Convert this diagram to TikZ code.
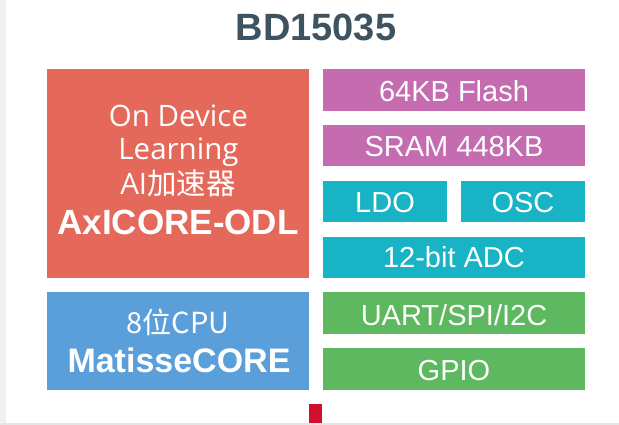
\documentclass[tikz,border=0pt]{standalone}
\usepackage{fontspec}
\setmainfont{Liberation Sans}
\newfontfamily\opensans{Open Sans}
\newfontfamily\cjk{Noto Sans CJK SC}
\definecolor{salmon}{HTML}{E4695B}
\definecolor{mag}{HTML}{C46CAF}
\definecolor{teal}{HTML}{19B3C6}
\definecolor{cpublue}{HTML}{5A9FD9}
\definecolor{grn}{HTML}{5DB85F}
\definecolor{titlec}{HTML}{3E5361}
\definecolor{barred}{HTML}{D20F2C}
\begin{document}
\begin{tikzpicture}[x=1pt,y=-1pt,
  blk/.style={draw=none, inner sep=0pt, outer sep=0pt},
  wide/.style={blk, minimum width=262pt},
  half/.style={blk, minimum width=124pt, minimum height=41pt},
  txt/.style={text=white, anchor=base, inner sep=0pt, font=\fontsize{29}{30}\selectfont},
  ltxt/.style={text=white, anchor=base, inner sep=0pt, font=\opensans\fontsize{29.5}{31}\selectfont},
  btxt/.style={text=white, anchor=base, inner sep=0pt, font=\bfseries\fontsize{35}{38}\selectfont}]
\useasboundingbox (0,0) rectangle (619,425);
\fill[white] (0,0) rectangle (619,425);
\fill[black!6] (0,0) rectangle (6,425);
\fill[black!10] (0,423) rectangle (619,425);

\node[anchor=base, inner sep=0pt, text=titlec, font=\bfseries\fontsize{38}{40}\selectfont] (title) at (316,40.5) {BD15035};

\node[wide, minimum height=209pt, fill=salmon] (odl) at (178,173.5) {};
\node[wide, minimum height=98pt, fill=cpublue] (cpu) at (178,341) {};
\node[wide, minimum height=42pt, fill=mag] (flash) at (454,90) {};
\node[wide, minimum height=41pt, fill=mag] (sram) at (454,145.5) {};
\node[half, fill=teal] (ldo) at (385,202) {};
\node[half, fill=teal] (osc) at (523,202) {};
\node[wide, minimum height=41pt, fill=teal] (adc) at (454,257.5) {};
\node[wide, minimum height=42pt, fill=grn] (uart) at (454,313) {};
\node[wide, minimum height=42pt, fill=grn] (gpio) at (454,369) {};
\node[blk, minimum width=13pt, minimum height=19pt, fill=barred] (bar) at (315.5,413.5) {};

\node[ltxt] (l1) at (178.5,126.5) {On Device};
\node[ltxt] (l2) at (178.5,159.5) {Learning};
\node[ltxt] (l3) at (178,194.5) {AI{\cjk 加速器}};
\node[btxt] (l4) at (178,235) {AxICORE-ODL};

\node[txt, font=\cjk\fontsize{29}{30}\selectfont] (c1) at (178,333) {8位CPU};
\node[btxt, font=\bfseries\fontsize{34}{36}\selectfont] (c2) at (179,372) {MatisseCORE};

\node[txt] (tflash) at (454,101.7) {64KB Flash};
\node[txt] (tsram) at (454,157) {SRAM 448KB};
\node[txt] (tldo) at (385,212.5) {LDO};
\node[txt] (tosc) at (523,212.5) {OSC};
\node[txt] (tadc) at (454,267) {12-bit ADC};
\node[txt] (tuart) at (454,325) {UART/SPI/I2C};
\node[txt] (tgpio) at (454,380) {GPIO};
\end{tikzpicture}
\end{document}
